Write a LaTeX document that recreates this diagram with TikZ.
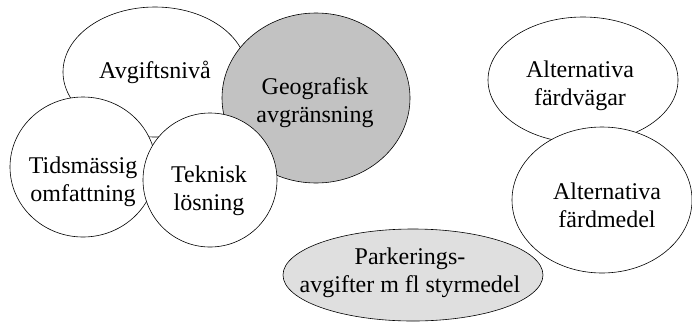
\documentclass[tikz,border=0pt]{standalone}
\usepackage{fontspec}
\setmainfont{Liberation Serif}
\usetikzlibrary{shapes.geometric}
\begin{document}
\begin{tikzpicture}[x=1pt,y=-1pt,
  blob/.style={ellipse,draw=black,line width=0.6pt,inner sep=0pt,fill=white},
  lbl/.style={align=center,font=\fontsize{24}{28}\selectfont,inner sep=0pt}]
\useasboundingbox (0,0) rectangle (692,322);
% left cluster
\node[blob,minimum width=184pt,minimum height=130pt] (avg) at (155,72) {};
\node[blob,fill=gray!48,minimum width=188pt,minimum height=170pt] (geo) at (316,98) {};
\node[blob,minimum width=146pt,minimum height=140pt] (tid) at (83,167) {};
\node[blob,minimum width=134pt,minimum height=134pt] (tek) at (210,180) {};
% right cluster
\node[blob,minimum width=190pt,minimum height=126pt] (vag) at (583,80) {};
\node[blob,minimum width=180pt,minimum height=146pt] (med) at (602,200) {};
\node[blob,fill=gray!25,minimum width=260pt,minimum height=92pt] (park) at (413,275) {};
% labels
\node[lbl] (tavg) at (155,72) {Avgiftsnivå};
\node[lbl] (tgeo) at (315,103) {Geografisk\\avgränsning};
\node[lbl] (ttid) at (83,182) {Tidsmässig\\omfattning};
\node[lbl] (ttek) at (209,191) {Teknisk\\lösning};
\node[lbl] (tvag) at (580,86) {Alternativa\\färdvägar};
\node[lbl] (tmed) at (607,205) {Alternativa\\färdmedel};
\node[lbl] (tpark) at (410,273) {Parkerings-\\avgifter m fl styrmedel};
\end{tikzpicture}
\end{document}
